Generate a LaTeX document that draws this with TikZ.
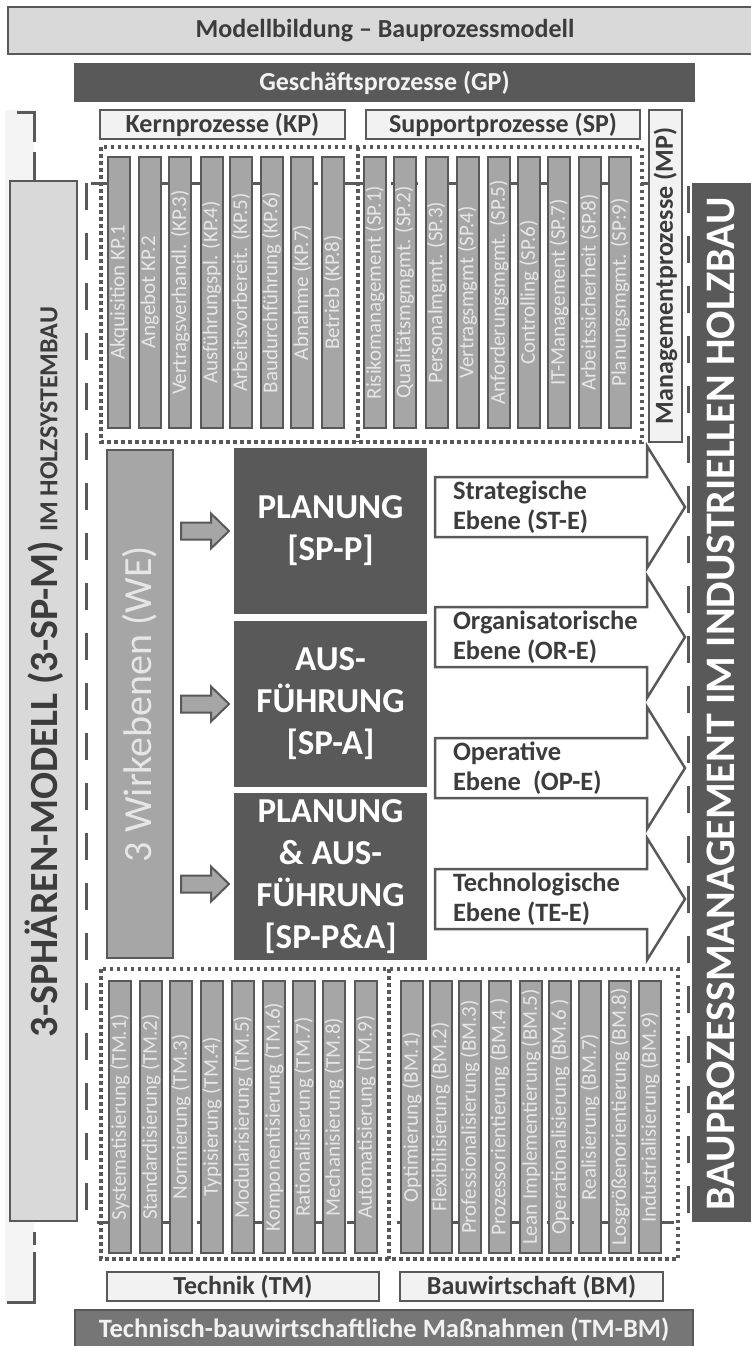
\documentclass[tikz,border=0pt]{standalone}
\usepackage{fontspec}
\setmainfont{Carlito}
\definecolor{dk}{HTML}{595959}
\definecolor{md}{HTML}{A6A6A6}
\definecolor{lt}{HTML}{D9D9D9}
\definecolor{vl}{HTML}{F2F2F2}
\definecolor{tx}{HTML}{3C3C3C}
\definecolor{bt}{HTML}{E6E6E6}
\definecolor{mg}{HTML}{767676}
\definecolor{bg}{HTML}{F4F4F4}
\newcommand{\rbox}[7]{%
  \pgfmathsetmacro{\rbw}{#4-#2}%
  \pgfmathsetmacro{\rbh}{#5-#3}%
  \node[#6, minimum width=\rbw pt, minimum height=\rbh pt] (#1) at ({(#2+#4)/2},{(#3+#5)/2}) {#7};}
\begin{document}
\begin{tikzpicture}[x=1pt,y=-1pt,
  every node/.style={inner sep=0pt,outer sep=0pt},
  lblbox/.style={draw=dk,line width=2pt,fill=vl,text=tx,font=\fontsize{26}{30}\selectfont\bfseries},
  darkbar/.style={draw=dk,line width=2pt,fill=dk,text=vl,font=\fontsize{26}{30}\selectfont\bfseries},
  bar/.style={draw=dk,line width=2pt,fill=md},
  bartext/.style={rotate=90,text=bt,font=\fontsize{21}{24}\selectfont},
  dotframe/.style={draw=dk,line width=3.5pt,dash pattern=on 3.5pt off 3.5pt},
  dkbox/.style={fill=dk,text=white,align=center,font=\fontsize{35}{42}\selectfont\bfseries},
  smallarrow/.style={draw=dk,line width=2pt,fill=md,line join=miter},
  bigarrow/.style={draw=dk,line width=2.5pt,fill=white,line join=miter},
  arrtext/.style={anchor=west,align=left,text=tx,font=\fontsize{26.5}{30}\selectfont\bfseries}]
\useasboundingbox (0,0) rectangle (750,1346);
\fill[white] (0,0) rectangle (750,1346);
% left bracket background and bracket
\fill[bg] (5,110) rectangle (34,1304);
\draw[dk,line width=3pt] (17,112) -- (34,112) -- (34,142);
\draw[dk,line width=3pt,dash pattern=on 30pt off 10pt] (34,152) -- (34,1245);
\draw[dk,line width=3pt] (34,1252) -- (34,1302) -- (7,1302);
% top boxes
\rbox{top}{8}{7}{762}{54}{draw=dk,line width=2pt,fill=lt,text=tx,font=\fontsize{26}{30}\selectfont\bfseries}{Modellbildung – Bauprozessmodell}
\rbox{gp}{75}{64}{694}{101}{darkbar}{Geschäftsprozesse (GP)}
\rbox{kp}{100}{110}{345}{139}{lblbox}{Kernprozesse (KP)}
\rbox{sp}{366}{110}{640}{139}{lblbox}{Supportprozesse (SP)}
% big dashed frame
\draw[dk,line width=3pt,dash pattern=on 27pt off 23pt] (86,183) rectangle (688,1222);
% dotted frames
\draw[dotframe] (101,147) rectangle (642,442);
\draw[dotframe] (358,147) -- (358,442);
\draw[dotframe] (101,969) rectangle (678,1259);
\draw[dotframe] (389,969) -- (389,1259);
% MP box
\rbox{mp}{649}{110}{682}{442}{lblbox}{}
\node[rotate=90,text=tx,font=\fontsize{26}{30}\selectfont\bfseries] (mpt) at (mp.center) {Managementprozesse (MP)};
% KP bars
\foreach \xx/\lab [count=\i] in {108/Akquisition KP.1, 138.6/Angebot KP.2, 169.2/Vertragsverhandl. (KP.3), 200.5/Ausführungspl. (KP.4), 230/Arbeitsvorbereit. (KP.5), 260.5/Baudurchführung (KP.6), 291/Abnahme (KP.7), 322/Betrieb (KP.8)}{
  \rbox{kpb\i}{\xx}{157}{\xx+22}{428}{bar}{}
  \node[bartext] (kpt\i) at (kpb\i.center) {\lab};
}
% SP bars
\foreach \xx/\lab [count=\i] in {364/Risikomanagement (SP.1), 393.5/Qualitätsmgmgmt. (SP.2), 425.5/Personalmgmt. (SP.3), 456.5/Vertragsmgmt (SP.4), 488/Anforderungsmgmt. (SP.5), 518/Controlling (SP.6), 548/IT-Management (SP.7), 578.5/Arbeitssicherheit (SP.8), 609/Planungsmgmt. (SP:9)}{
  \rbox{spb\i}{\xx}{157}{\xx+22}{428}{bar}{}
  \node[bartext] (spt\i) at (spb\i.center) {\lab};
}
% TM bars
\foreach \xx/\lab [count=\i] in {109/Systematisierung (TM.1), 140/Standardisierung (TM.2), 170/Normierung (TM.3), 201/Typisierung (TM.4), 232/Modularisierung (TM.5), 263/Komponentisierung (TM.6), 293/Rationalisierung (TM.7), 323/Mechanisierung (TM.8), 355/Automatisierung (TM.9)}{
  \rbox{tmb\i}{\xx}{981}{\xx+22}{1253}{bar}{}
  \node[bartext] (tmt\i) at (tmb\i.center) {\lab};
}
% BM bars
\foreach \xx/\lab [count=\i] in {401/Optimierung (BM.1), 429.5/Flexibilisierung (BM.2), 459/Professionalisierung (BM.3), 488.5/Prozessorientierung (BM.4 ), 520/Lean Implementierung (BM.5), 549/Operationalisierung (BM.6 ), 579/Realisierung (BM.7), 609/Losgrößenorientierung (BM.8), 639/Industrialisierung (BM.9)}{
  \rbox{bmb\i}{\xx}{981}{\xx+22}{1253}{bar}{}
  \node[bartext] (bmt\i) at (bmb\i.center) {\lab};
}
% WE box
\rbox{we}{107}{450}{173}{958}{draw=dk,line width=2pt,fill=md}{}
\node[rotate=90,text=bt,font=\fontsize{40}{48}\selectfont] (wet) at (we.center) {3 Wirkebenen (WE)};
% dark sphere boxes
\rbox{spp}{234}{448}{427}{614}{dkbox}{PLANUNG\\{[SP-P]}}
\rbox{spa}{234}{621}{427}{787}{dkbox}{AUS-\\FÜHRUNG\\{[SP-A]}}
\rbox{sppa}{234}{793}{427}{960}{dkbox}{PLANUNG\\\& AUS-\\FÜHRUNG\\{[SP-P\&A]}}
% small arrows
\foreach \cy in {531,704,884}{
  \draw[smallarrow] (181,\cy-8.5) -- (211,\cy-8.5) -- (211,\cy-17.5) -- (229,\cy) -- (211,\cy+17.5) -- (211,\cy+8.5) -- (181,\cy+8.5) -- cycle;
}
% big arrows
\foreach \cy/\lab [count=\i] in {507/{Strategische\\Ebene (ST-E)}, 637/{Organisatorische\\Ebene (OR-E)}, 768/{Operative\\Ebene\ \ (OP-E)}, 899/{Technologische\\Ebene (TE-E)}}{
  \draw[bigarrow] (435,\cy-30) -- (647,\cy-30) -- (647,\cy-61) -- (685,\cy) -- (647,\cy+61) -- (647,\cy+30) -- (435,\cy+30) -- cycle;
  \node[arrtext] (arr\i) at (453,\cy) {\lab};
}
% right dark box
\rbox{bau}{692}{183}{760}{1222}{fill=dk}{}
\node[rotate=90,text=white,font=\fontsize{42}{48}\selectfont\bfseries] (baut) at (721,704) {BAUPROZESSMANAGEMENT IM INDUSTRIELLEN HOLZBAU};
% left 3-SP-M box
\rbox{spm}{10}{181}{77}{1221}{draw=dk,line width=2pt,fill=lt}{}
\node[rotate=90,text=tx] (spmt) at (44,672) {{\fontsize{40}{48}\selectfont\bfseries 3-SPHÄREN-MODELL (3-SP-M) }{\fontsize{26}{30}\selectfont\bfseries IM HOLZSYSTEMBAU}};
% bottom labels
\rbox{tm}{107}{1272}{379}{1301}{lblbox}{Technik (TM)}
\rbox{bm}{400}{1272}{663}{1301}{lblbox}{Bauwirtschaft (BM)}
\rbox{tmbm}{75}{1310}{693}{1350}{darkbar,fill=mg,font=\fontsize{26.5}{30}\selectfont\bfseries}{Technisch-bauwirtschaftliche Maßnahmen (TM-BM)}
\end{tikzpicture}
\end{document}
